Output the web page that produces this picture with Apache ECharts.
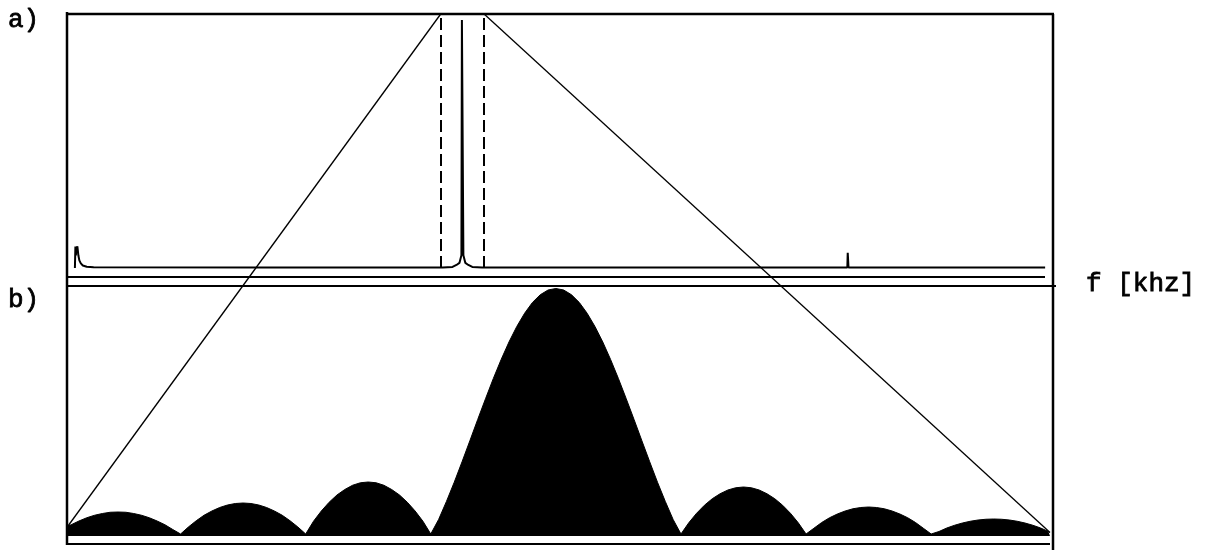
<!DOCTYPE html>
<html>
<head>
<meta charset="utf-8">
<script src="https://cdn.jsdelivr.net/npm/echarts@6/dist/echarts.min.js"></script>
<style>
  html, body { margin: 0; padding: 0; background: #fff; }
  #chart { width: 1209px; height: 552px; }
</style>
</head>
<body>
<div id="chart"></div>
<script>
// a) full spectrum: frequency (arbitrary units 0..100) and amplitude (0..1)
const specFreq = [0.7, 0.75, 0.8, 0.85, 0.95, 1.05, 1.15, 1.3, 1.5, 1.9, 2.6, 20, 38.0, 39.0, 39.4, 39.7, 39.9, 39.95, 40.05, 40.1, 40.3, 40.6, 41.0, 42.0, 60, 79.04, 79.08, 79.12, 79.16, 90, 99.1];
const specAmp  = [0.0, 0.085, 0.05, 0.075, 0.085, 0.05, 0.03, 0.018, 0.01, 0.005, 0.003, 0.002, 0.002, 0.004, 0.012, 0.02, 0.05, 0.976, 0.976, 0.05, 0.02, 0.012, 0.004, 0.002, 0.002, 0.002, 0.06, 0.06, 0.002, 0.002, 0.002];

// zoom window around the main line (dashed markers)
const zoomWindow = [37.8, 42.2];

// b) zoomed magnitude response: offset in bins and magnitude (0..1), one row per lobe
const zoomFreq = [
  -3.9, -3.875, -3.8125, -3.75, -3.6875, -3.625, -3.5625, -3.5, -3.4375, -3.375, -3.3125, -3.25, -3.1875, -3.125, -3.0625, -3.0,
  -2.9375, -2.875, -2.8125, -2.75, -2.6875, -2.625, -2.5625, -2.5, -2.4375, -2.375, -2.3125, -2.25, -2.1875, -2.125, -2.0625, -2.0,
  -1.9375, -1.875, -1.8125, -1.75, -1.6875, -1.625, -1.5625, -1.5, -1.4375, -1.375, -1.3125, -1.25, -1.1875, -1.125, -1.0625, -1.0,
  -0.9375, -0.875, -0.8125, -0.75, -0.6875, -0.625, -0.5625, -0.5, -0.4375, -0.375, -0.3125, -0.25, -0.1875, -0.125, -0.0625, 0,
  0.0625, 0.125, 0.1875, 0.25, 0.3125, 0.375, 0.4375, 0.5, 0.5625, 0.625, 0.6875, 0.75, 0.8125, 0.875, 0.9375, 1.0,
  1.0625, 1.125, 1.1875, 1.25, 1.3125, 1.375, 1.4375, 1.5, 1.5625, 1.625, 1.6875, 1.75, 1.8125, 1.875, 1.9375, 2.0,
  2.0625, 2.125, 2.1875, 2.25, 2.3125, 2.375, 2.4375, 2.5, 2.5625, 2.625, 2.6875, 2.75, 2.8125, 2.875, 2.9375, 3.0,
  3.0625, 3.125, 3.1875, 3.25, 3.3125, 3.375, 3.4375, 3.5, 3.5625, 3.625, 3.6875, 3.75, 3.8125, 3.875, 3.9375, 3.95
];
const zoomMag = [
  0.040, 0.045, 0.060, 0.073, 0.083, 0.090, 0.095, 0.096, 0.095, 0.090, 0.083, 0.073, 0.060, 0.045, 0.026, 0.008,
  0.036, 0.061, 0.083, 0.100, 0.114, 0.124, 0.130, 0.132, 0.130, 0.124, 0.114, 0.100, 0.083, 0.061, 0.036, 0.008,
  0.059, 0.100, 0.135, 0.164, 0.186, 0.203, 0.213, 0.216, 0.213, 0.203, 0.186, 0.164, 0.135, 0.100, 0.059, 0.008,
  0.066, 0.138, 0.215, 0.297, 0.381, 0.466, 0.549, 0.630, 0.706, 0.776, 0.838, 0.891, 0.934, 0.965, 0.984, 0.990,
  0.984, 0.965, 0.934, 0.891, 0.838, 0.776, 0.706, 0.630, 0.549, 0.466, 0.381, 0.297, 0.215, 0.138, 0.066, 0.008,
  0.053, 0.091, 0.123, 0.149, 0.169, 0.184, 0.193, 0.196, 0.193, 0.184, 0.169, 0.149, 0.123, 0.091, 0.053, 0.008,
  0.031, 0.054, 0.073, 0.088, 0.100, 0.109, 0.114, 0.116, 0.114, 0.109, 0.100, 0.088, 0.073, 0.054, 0.031, 0.008,
  0.018, 0.032, 0.043, 0.052, 0.059, 0.064, 0.067, 0.068, 0.067, 0.064, 0.059, 0.052, 0.043, 0.032, 0.018, 0.014
];

const panelLabels = ['a)', 'b)'];
const axisName = 'f [khz]';

const chart = echarts.init(document.getElementById('chart'), null, { renderer: 'canvas' });

const hiddenAxis = {
  axisLine: { show: false }, axisTick: { show: false },
  axisLabel: { show: false }, splitLine: { show: false }
};

chart.setOption({
  animation: false,
  backgroundColor: '#fff',
  grid: [
    { left: 68, top: 14, width: 986, height: 254 },
    { left: 68, top: 286, width: 982, height: 250 }
  ],
  xAxis: [
    Object.assign({ type: 'value', gridIndex: 0, min: 0, max: 100 }, hiddenAxis),
    Object.assign({ type: 'value', gridIndex: 1, min: -3.9, max: 3.95 }, hiddenAxis)
  ],
  yAxis: [
    Object.assign({ type: 'value', gridIndex: 0, min: 0, max: 1 }, hiddenAxis),
    Object.assign({ type: 'value', gridIndex: 1, min: 0, max: 1 }, hiddenAxis)
  ],
  series: [
    {
      type: 'line', xAxisIndex: 0, yAxisIndex: 0,
      data: specFreq.map((f, i) => [f, specAmp[i]]),
      showSymbol: false, symbol: 'none',
      lineStyle: { color: '#000', width: 2 },
      markLine: {
        silent: true, symbol: 'none', label: { show: false },
        lineStyle: { color: '#000', width: 2, type: [12, 5] },
        data: zoomWindow.map(v => ({ xAxis: v }))
      }
    },
    {
      type: 'line', xAxisIndex: 1, yAxisIndex: 1,
      data: zoomFreq.map((f, i) => [f, zoomMag[i]]),
      showSymbol: false, symbol: 'none',
      lineStyle: { color: '#000', width: 1 },
      areaStyle: { color: '#000', opacity: 1 }
    }
  ]
});

// frame, separators and the projection lines from the zoom window to panel b
const aTL = chart.convertToPixel({ gridIndex: 0 }, [0, 1]);
const aBR = chart.convertToPixel({ gridIndex: 0 }, [100, 0]);
const bTL = chart.convertToPixel({ gridIndex: 1 }, [-3.9, 1]);
const bBR = chart.convertToPixel({ gridIndex: 1 }, [3.95, 0]);
const winL = chart.convertToPixel({ gridIndex: 0 }, [zoomWindow[0], 1]);
const winR = chart.convertToPixel({ gridIndex: 0 }, [zoomWindow[1], 1]);
const endL = chart.convertToPixel({ gridIndex: 1 }, [zoomFreq[0], zoomMag[0]]);
const endR = chart.convertToPixel({ gridIndex: 1 }, [zoomFreq[zoomFreq.length - 1], zoomMag[zoomMag.length - 1]]);

function seg(x1, y1, x2, y2, w) {
  return { type: 'line', silent: true, shape: { x1, y1, x2, y2 },
           style: { stroke: '#000', lineWidth: w } };
}
const txtFont = '26px "Liberation Mono", "DejaVu Sans Mono", monospace';
function label(text, x, y) {
  return { type: 'text', silent: true, x, y,
           style: { text, font: txtFont, fill: '#000', stroke: '#000', lineWidth: 0.8,
                    textVerticalAlign: 'middle' } };
}

chart.setOption({
  graphic: [
    seg(aTL[0] - 1, aTL[1], aBR[0], aTL[1], 2.5),
    seg(aTL[0] - 1, aTL[1] - 2, aTL[0] - 1, bBR[1] + 9, 2.5),
    seg(aBR[0] - 1, aTL[1], aBR[0] - 1, bBR[1] + 14, 2.5),
    seg(aTL[0], aBR[1] + 9, aBR[0] - 9, aBR[1] + 9, 2),
    seg(bTL[0], bTL[1], aBR[0] + 2, bTL[1], 2),
    seg(bTL[0], bBR[1] + 8, bBR[0], bBR[1] + 8, 2),
    seg(winL[0], winL[1], endL[0], endL[1], 1.3),
    seg(winR[0], winR[1], endR[0], endR[1], 1.3),
    label(panelLabels[0], 8, 20),
    label(panelLabels[1], 8, 300),
    label(axisName, 1086, 284)
  ]
});
</script>
</body>
</html>
